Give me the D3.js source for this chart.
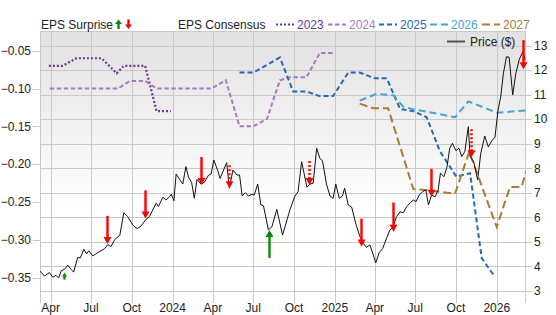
<!DOCTYPE html>
<html><head><meta charset="utf-8">
<script src="https://cdn.jsdelivr.net/npm/d3@7"></script>
<style>body{margin:0;background:#fff;} text{font-family:"Liberation Sans",Arial,sans-serif;font-size:12px;fill:#222;}</style>
</head><body><svg id="c" width="556" height="315"></svg>
<script>
// ---- data ----
const priceData = [["2023-03-07",3.83],["2023-03-18",3.61],["2023-03-29",3.75],["2023-04-06",3.56],["2023-04-13",3.64],["2023-04-19",3.53],["2023-04-25",3.83],["2023-05-02",3.88],["2023-05-10",4.05],["2023-05-17",3.88],["2023-05-23",3.77],["2023-06-01",4.37],["2023-06-07",4.35],["2023-06-15",4.70],["2023-06-21",4.51],["2023-06-26",4.64],["2023-07-05",4.43],["2023-07-16",4.56],["2023-07-31",4.72],["2023-08-08",4.89],["2023-08-15",4.81],["2023-08-24",5.11],["2023-09-04",5.27],["2023-09-13",6.19],["2023-09-22",6.03],["2023-10-03",5.69],["2023-10-13",5.54],["2023-10-22",5.65],["2023-11-02",5.92],["2023-11-10",6.03],["2023-11-17",6.30],["2023-11-25",6.58],["2023-11-30",6.44],["2023-12-10",6.82],["2023-12-17",6.71],["2023-12-25",6.84],["2023-12-29",6.95],["2024-01-04",6.68],["2024-01-09",7.77],["2024-01-17",7.55],["2024-01-24",7.36],["2024-01-31",8.07],["2024-02-06",7.64],["2024-02-13",7.42],["2024-02-19",6.78],["2024-02-25",7.55],["2024-03-05",7.36],["2024-03-13",7.44],["2024-03-22",7.72],["2024-03-28",7.77],["2024-04-03",8.34],["2024-04-12",7.90],["2024-04-17",7.59],["2024-05-02",8.23],["2024-05-08",7.19],["2024-05-16",7.93],["2024-05-25",7.73],["2024-05-31",7.73],["2024-06-06",6.87],["2024-06-13",7.01],["2024-06-20",6.87],["2024-06-28",6.94],["2024-07-03",6.91],["2024-07-11",7.36],["2024-07-18",6.52],["2024-07-24",6.47],["2024-08-04",5.49],["2024-08-12",5.62],["2024-08-23",6.33],["2024-09-05",5.28],["2024-09-22",6.33],["2024-10-03",6.87],["2024-10-10",7.05],["2024-10-18",8.27],["2024-10-30",7.23],["2024-11-06",7.36],["2024-11-13",7.39],["2024-11-21",8.82],["2024-11-28",8.41],["2024-12-04",8.31],["2024-12-13",7.36],["2024-12-21",6.87],["2024-12-28",6.78],["2025-01-03",7.36],["2025-01-11",6.78],["2025-01-18",6.87],["2025-01-23",7.19],["2025-01-31",6.51],["2025-02-08",6.41],["2025-02-17",5.76],["2025-02-26",5.24],["2025-03-07",4.92],["2025-03-13",4.78],["2025-03-21",4.88],["2025-03-27",4.56],["2025-04-03",4.15],["2025-04-11",4.56],["2025-04-19",4.74],["2025-04-26",5.08],["2025-05-05",5.49],["2025-05-11",5.56],["2025-05-20",6.03],["2025-05-28",6.23],["2025-06-04",6.19],["2025-06-12",6.44],["2025-06-20",6.60],["2025-06-27",6.71],["2025-07-03",6.64],["2025-07-10",6.91],["2025-07-18",7.05],["2025-07-25",7.12],["2025-07-31",6.51],["2025-08-07",6.91],["2025-08-15",6.84],["2025-08-22",7.12],["2025-08-27",7.80],["2025-09-04",7.66],["2025-09-11",8.07],["2025-09-17",8.82],["2025-09-23",9.02],["2025-10-01",8.72],["2025-10-08",8.82],["2025-10-14",8.48],["2025-10-21",8.68],["2025-10-29",9.70],["2025-11-02",8.48],["2025-11-10",8.27],["2025-11-19",7.53],["2025-11-26",8.61],["2025-12-05",9.32],["2025-12-13",8.88],["2025-12-21",9.13],["2025-12-28",9.27],["2026-01-04",10.38],["2026-01-10",10.92],["2026-01-16",11.87],["2026-01-23",12.55],["2026-01-29",12.53],["2026-02-06",10.99],["2026-02-13",11.87],["2026-02-21",12.45],["2026-03-01",12.76],["2026-03-06",12.42]];

const eps2023 = [["2023-03-28",-0.07],["2023-04-28",-0.07],["2023-05-29",-0.06],["2023-07-25",-0.06],["2023-08-28",-0.08],["2023-09-13",-0.07],["2023-10-31",-0.07],["2023-11-26",-0.13],["2023-12-28",-0.13]];
const eps2024 = [["2023-03-30",-0.10],["2023-08-31",-0.10],["2023-09-27",-0.09],["2023-10-31",-0.09],["2023-11-26",-0.10],["2024-03-29",-0.10],["2024-04-30",-0.089],["2024-05-31",-0.15],["2024-07-01",-0.15],["2024-08-01",-0.14],["2024-08-30",-0.089],["2024-09-22",-0.085],["2024-10-29",-0.085],["2024-11-28",-0.053],["2024-12-28",-0.053]];
const eps2025 = [["2024-05-31",-0.079],["2024-07-01",-0.079],["2024-08-30",-0.059],["2024-09-29",-0.104],["2024-10-29",-0.104],["2024-11-28",-0.11],["2024-12-28",-0.11],["2025-01-31",-0.079],["2025-02-26",-0.079],["2025-04-01",-0.0865],["2025-04-28",-0.0865],["2025-05-28",-0.127],["2025-06-27",-0.13],["2025-07-27",-0.138],["2025-08-26",-0.183],["2025-10-02",-0.2165],["2025-11-02",-0.212],["2025-11-28",-0.324],["2025-12-28",-0.349]];
const eps2026 = [["2025-02-26",-0.116],["2025-04-05",-0.107],["2025-05-13",-0.109],["2025-06-04",-0.124],["2025-07-01",-0.128],["2025-07-31",-0.131],["2025-09-29",-0.138],["2025-10-29",-0.117],["2026-01-01",-0.132],["2026-03-08",-0.129]];
const eps2027 = [["2025-02-26",-0.12],["2025-03-28",-0.126],["2025-05-01",-0.126],["2025-06-27",-0.233],["2025-07-24",-0.234],["2025-09-29",-0.239],["2025-10-31",-0.1835],["2026-01-01",-0.283],["2026-01-31",-0.23],["2026-02-26",-0.23],["2026-03-08",-0.21]];

// surprises: date, price at report, surprise (%), estimated flag
const surpriseDates = ["2023-05-01","2023-08-06","2023-10-31","2024-03-04","2024-05-07","2024-08-06","2024-11-04","2025-03-02","2025-05-11","2025-08-05","2025-11-04","2026-03-02"];
const surprisePrices = [3.75,4.92,5.96,7.32,7.19,5.49,7.32,4.81,5.42,6.84,8.45,12.04];
const surpriseValues = [25,-100,-100,-100,-82,100,-86,-100,-104,-100,-100,-104];
const surpriseDotted = [false,false,false,false,true,false,true,false,false,false,true,false];

const consensusYears = ["2023","2024","2025","2026","2027"];
const epsTicks = [-0.05,-0.10,-0.15,-0.20,-0.25,-0.30,-0.35];
const priceTicks = [3,4,5,6,7,8,9,10,11,12,13];
const timeTicks = ["2023-04-01","2023-07-01","2023-10-01","2024-01-01","2024-04-01","2024-07-01","2024-10-01","2025-01-01","2025-04-01","2025-07-01","2025-10-01","2026-01-01"];

// ---- styles ----
const seriesStyle = {
  "2023":{color:"#6a3a90",dash:"2,2",w:2.2},
  "2024":{color:"#a47cc2",dash:"4.5,2.5",w:2},
  "2025":{color:"#2768b3",dash:"5,3",w:2},
  "2026":{color:"#47a3d4",dash:"7,4",w:2},
  "2027":{color:"#a97b34",dash:"8,4",w:2}
};
const epsSeries = {"2023":eps2023,"2024":eps2024,"2025":eps2025,"2026":eps2026,"2027":eps2027};

const parse = d3.timeParse("%Y-%m-%d");
const Lp=40,Rp=526,Tp=31,Bp=301;
const svg = d3.select("#c");
const x = d3.scaleTime().domain([new Date(2023,2,8),new Date(2026,2,8)]).range([Lp,Rp]);
const yE = d3.scaleLinear().domain([-0.024,-0.3808]).range([Tp,Bp]);
const yP = d3.scaleLinear().domain([13.599,2.592]).range([Tp,Bp]);
const arrowLen = d3.scaleLinear().domain([0,100]).range([0,28]);

const defs = svg.append("defs");
const g = defs.append("linearGradient").attr("id","bg").attr("x1",0).attr("y1",0).attr("x2",0).attr("y2",1);
g.append("stop").attr("offset","0%").attr("stop-color","#e1e1e1");
g.append("stop").attr("offset","65%").attr("stop-color","#ffffff");
defs.append("clipPath").attr("id","clip").append("rect").attr("x",Lp).attr("y",Tp).attr("width",Rp-Lp).attr("height",Bp-Tp);

svg.append("rect").attr("x",Lp).attr("y",Tp).attr("width",Rp-Lp).attr("height",Bp-Tp).attr("fill","url(#bg)");

const grid = svg.append("g").attr("stroke","#c9c9c9").attr("stroke-width",1).attr("shape-rendering","crispEdges");
grid.selectAll("line.h").data(priceTicks).join("line").attr("class","h")
  .attr("x1",Lp).attr("x2",Rp).attr("y1",d=>Math.round(yP(d))+0.5).attr("y2",d=>Math.round(yP(d))+0.5);
const tDates = timeTicks.map(parse);
grid.selectAll("line.v").data(tDates).join("line").attr("class","v")
  .attr("y1",Tp).attr("y2",Bp+2).attr("x1",d=>Math.round(x(d))+0.5).attr("x2",d=>Math.round(x(d))+0.5);
// border
grid.append("line").attr("x1",Lp+0.5).attr("x2",Lp+0.5).attr("y1",Tp).attr("y2",Bp+2);
grid.append("line").attr("x1",Rp-0.5).attr("x2",Rp-0.5).attr("y1",Tp).attr("y2",Bp+2);
grid.append("line").attr("x1",Lp).attr("x2",Rp).attr("y1",Tp+0.5).attr("y2",Tp+0.5);
// tick marks
grid.selectAll("line.lt").data(epsTicks).join("line").attr("class","lt")
  .attr("x1",33).attr("x2",Lp).attr("y1",d=>Math.round(yE(d))+0.5).attr("y2",d=>Math.round(yE(d))+0.5);
grid.selectAll("line.rt").data(priceTicks).join("line").attr("class","rt")
  .attr("x1",Rp).attr("x2",Rp+6).attr("y1",d=>Math.round(yP(d))+0.5).attr("y2",d=>Math.round(yP(d))+0.5);

const plot = svg.append("g").attr("clip-path","url(#clip)");
const epsLine = d3.line().x(d=>x(parse(d[0]))).y(d=>yE(d[1]));
consensusYears.forEach(yr=>{
  const s = seriesStyle[yr];
  plot.append("path").datum(epsSeries[yr]).attr("d",epsLine).attr("fill","none")
    .attr("stroke",s.color).attr("stroke-width",s.w).attr("stroke-dasharray",s.dash);
});
const priceLine = d3.line().x(d=>x(parse(d[0]))).y(d=>yP(d[1]));
plot.append("path").datum(priceData).attr("d",priceLine).attr("fill","none")
  .attr("stroke","#111").attr("stroke-width",1).attr("stroke-linejoin","round");

// arrows
function drawArrow(gr, cx, tipY, len, up, color, dotted, hw, hh){
  const dir = up ? 1 : -1; // up arrow: tail below tip
  const headH = Math.min(hh, len*0.55);
  const headW = hw * Math.min(1, headH/hh*1.1);
  gr.append("line").attr("x1",cx).attr("x2",cx)
    .attr("y1",tipY + dir*len).attr("y2",tipY + dir*headH*0.8)
    .attr("stroke",color).attr("stroke-width",2.4).attr("stroke-dasharray",dotted?"2,2":null);
  gr.append("path").attr("d",`M${cx-headW/2},${tipY+dir*headH} L${cx+headW/2},${tipY+dir*headH} L${cx},${tipY} Z`).attr("fill",color);
}
const arrows = svg.append("g");
surpriseDates.forEach((d,i)=>{
  const v = surpriseValues[i];
  const up = v>0;
  drawArrow(arrows, Math.round(x(parse(d)))+0.5, yP(surprisePrices[i]), arrowLen(Math.abs(v)), up, up?"#0a8a0a":"#ff0000", surpriseDotted[i], 8, 7);
});

// axis labels
svg.append("g").selectAll("text").data(epsTicks).join("text")
  .attr("x",31).attr("y",d=>yE(d)).attr("dy","0.35em").attr("text-anchor","end").text(d3.format(".2f"));
svg.append("g").selectAll("text").data(priceTicks).join("text")
  .attr("x",534).attr("y",d=>yP(d)).attr("dy","0.35em").text(d=>d);
const fmt = d=> d.getMonth()===0 ? d3.timeFormat("%Y")(d) : d3.timeFormat("%b")(d);
svg.append("g").selectAll("text").data(tDates).join("text")
  .attr("x",d=>x(d)).attr("y",312).attr("text-anchor","middle").text(fmt);

// legend
const lg = svg.append("g");
lg.append("text").attr("x",41).attr("y",28.5).text("EPS Surprise");
drawArrow(lg, 118.5, 19.5, 9.5, true, "#0a8a0a", false, 7, 4.5);
drawArrow(lg, 128.5, 29, 9.5, false, "#ff0000", false, 7, 4.5);
lg.append("text").attr("x",178).attr("y",28.5).text("EPS Consensus");
const legX = [276,328,379,430,482];
consensusYears.forEach((yr,i)=>{
  const s = seriesStyle[yr];
  lg.append("line").attr("x1",legX[i]).attr("x2",legX[i]+18).attr("y1",24.5).attr("y2",24.5)
    .attr("stroke",s.color).attr("stroke-width",2).attr("stroke-dasharray",s.dash);
  lg.append("text").attr("x",legX[i]+21).attr("y",28.5).style("fill",s.color).text(yr);
});
lg.append("line").attr("x1",447).attr("x2",465).attr("y1",41.5).attr("y2",41.5).attr("stroke","#555").attr("stroke-width",2);
lg.append("text").attr("x",470).attr("y",45.5).text("Price ($)");
</script></body></html>
